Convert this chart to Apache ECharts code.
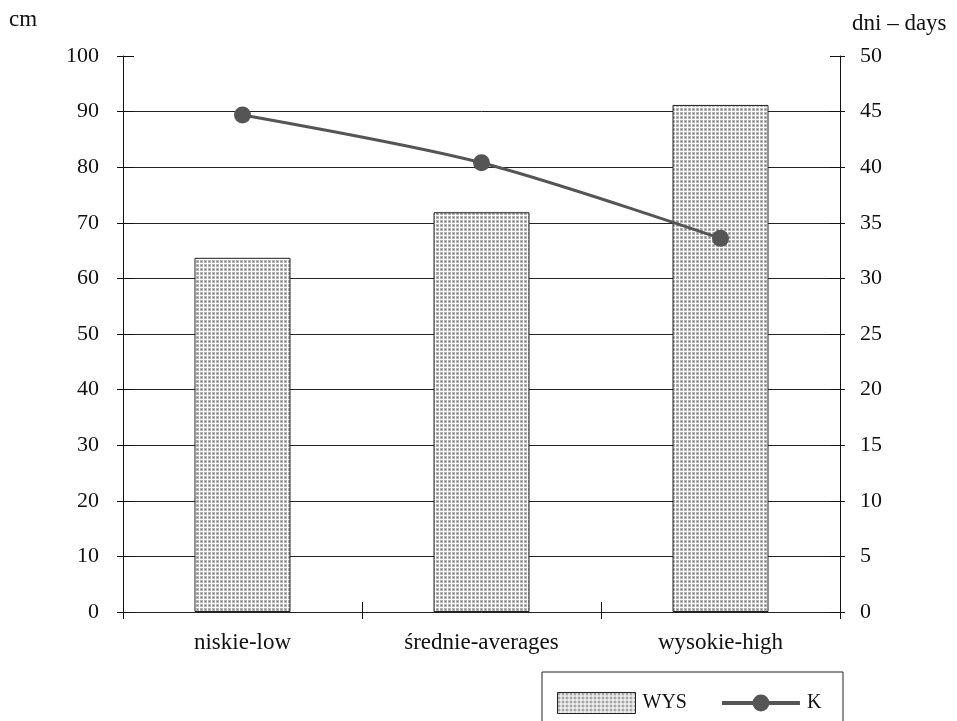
<!DOCTYPE html>
<html>
<head>
<meta charset="utf-8">
<script src="https://cdn.jsdelivr.net/npm/echarts@6/dist/echarts.min.js"></script>
<style>
  html, body { margin: 0; padding: 0; background: #fff; }
  #chart { width: 957px; height: 721px; }
</style>
</head>
<body>
<div id="chart"></div>
<script>
// dane
const categories = ['niskie-low', 'średnie-averages', 'wysokie-high'];
const wysValues = [63.7, 71.9, 91.2];   // cm, lewa oś
const kValues = [44.7, 40.4, 33.6];     // dni, prawa oś
const leftTicks = { min: 0, max: 100, interval: 10 };
const rightTicks = { min: 0, max: 50, interval: 5 };

const FONT = '"Liberation Serif", "DejaVu Serif", serif';

// wzór kropkowany dla słupków
const makePattern = () => {
  const c = document.createElement('canvas');
  c.width = 4;
  c.height = 4;
  const ctx = c.getContext('2d');
  ctx.fillStyle = '#ffffff';
  ctx.fillRect(0, 0, 4, 4);
  ctx.fillStyle = '#b4b4b4';
  ctx.fillRect(0, 0, 3, 3);
  ctx.fillStyle = '#7a7a7a';
  ctx.fillRect(1, 1, 1, 1);
  return c;
};
const pattern = { image: makePattern(), repeat: 'repeat' };

const chart = echarts.init(document.getElementById('chart'), null, { renderer: 'canvas' });

const labelStyle = { color: '#111', fontFamily: FONT, fontSize: 22 };

const option = {
  animation: false,
  grid: { left: 123, right: 117, top: 56, bottom: 109, containLabel: false },
  xAxis: [
    {
      type: 'category',
      data: categories,
      axisLine: { lineStyle: { color: '#222', width: 1 } },
      axisTick: { show: true, length: 7, lineStyle: { color: '#111' } },
      axisLabel: { ...labelStyle, fontSize: 23, margin: 19 }
    },
    {
      type: 'category',
      data: categories,
      position: 'bottom',
      axisLine: { show: false },
      axisTick: { show: true, inside: true, length: 10, lineStyle: { color: '#111' } },
      axisLabel: { show: false }
    }
  ],
  yAxis: [
    {
      type: 'value',
      position: 'left',
      ...leftTicks,
      axisLine: { show: true, lineStyle: { color: '#111' } },
      axisTick: { show: true, length: 6, lineStyle: { color: '#111' } },
      axisLabel: { ...labelStyle, margin: 24 },
      splitLine: { show: true, showMinLine: false, showMaxLine: false, lineStyle: { color: '#222', width: 1 } }
    },
    {
      type: 'value',
      position: 'right',
      ...rightTicks,
      axisLine: { show: true, lineStyle: { color: '#111' } },
      axisTick: { show: true, length: 5, lineStyle: { color: '#111' } },
      axisLabel: { ...labelStyle, margin: 20 },
      splitLine: { show: false }
    },
    {
      type: 'value',
      position: 'left',
      ...leftTicks,
      axisLine: { show: false },
      axisTick: { show: true, inside: true, length: 11, lineStyle: { color: '#111' } },
      axisLabel: { show: false },
      splitLine: { show: false }
    },
    {
      type: 'value',
      position: 'right',
      ...rightTicks,
      axisLine: { show: false },
      axisTick: { show: true, inside: true, length: 10, lineStyle: { color: '#111' } },
      axisLabel: { show: false },
      splitLine: { show: false }
    }
  ],
  legend: {
    left: 552,
    top: 687,
    itemWidth: 78,
    itemHeight: 21,
    itemGap: 33,
    textStyle: { color: '#111', fontFamily: FONT, fontSize: 20, padding: [0, 0, 0, 2] },
    data: [
      { name: 'WYS', icon: 'rect', itemStyle: { borderColor: '#222', borderWidth: 1 } },
      { name: 'K', lineStyle: { width: 4, color: '#555' } }
    ]
  },
  graphic: [
    { type: 'text', left: 9, top: 8, style: { text: 'cm', font: '23px ' + FONT, fill: '#111' } },
    { type: 'text', left: 852, top: 12, style: { text: 'dni – days', font: '23px ' + FONT, fill: '#111' } },
    {
      type: 'rect',
      shape: { x: 542, y: 672, width: 301, height: 60 },
      style: { fill: 'none', stroke: '#222', lineWidth: 1 },
      silent: true
    }
  ],
  series: [
    {
      name: 'WYS',
      type: 'bar',
      xAxisIndex: 0,
      yAxisIndex: 0,
      data: wysValues,
      barWidth: 96,
      itemStyle: { color: pattern, borderColor: '#222', borderWidth: 1 }
    },
    {
      name: 'K',
      type: 'line',
      xAxisIndex: 0,
      yAxisIndex: 1,
      data: kValues,
      smooth: 0.3,
      symbol: 'circle',
      symbolSize: 17,
      lineStyle: { color: '#555', width: 3 },
      itemStyle: { color: '#555' },
      z: 5
    }
  ]
};

chart.setOption(option);
</script>
</body>
</html>
